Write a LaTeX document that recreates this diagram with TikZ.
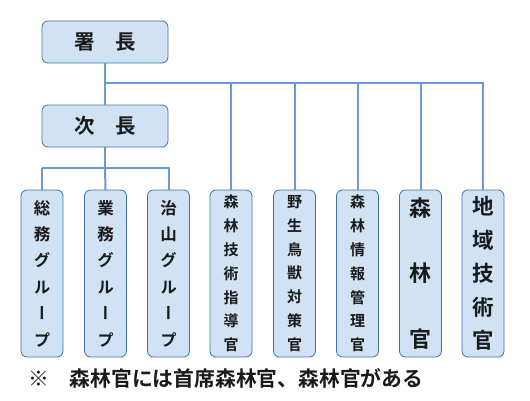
\documentclass[tikz,border=0pt]{standalone}
\usepackage{fontspec}
\newfontfamily\jpfont{Noto Sans CJK JP}[BoldFont={Noto Sans CJK JP Bold}]
\newfontfamily\jpvfont{Noto Sans CJK JP}[BoldFont={Noto Sans CJK JP Bold},RawFeature=+vert]
\definecolor{boxfill}{HTML}{D0E2F3}
\definecolor{boxedge}{HTML}{41719C}
\definecolor{linkc}{HTML}{6A9ACF}
\definecolor{txt}{HTML}{1A1A1A}
\begin{document}
\begin{tikzpicture}[x=1pt,y=-1pt,
  every node/.style={inner sep=0pt,outer sep=0pt},
  headbox/.style={draw=boxedge,line width=0.8pt,fill=boxfill,rounded corners=6pt,
     minimum width=126pt,minimum height=42pt,text=txt,
     font=\jpfont\bfseries\fontsize{20.5}{24}\selectfont},
  colbox/.style={draw=boxedge,line width=0.8pt,fill=boxfill,rounded corners=6pt,
     minimum width=42pt,minimum height=167pt,text=txt,align=center},
  link/.style={draw=linkc,line width=2pt}]
\useasboundingbox (0,0) rectangle (530,400);
\node[headbox] (sho) at (105,42) {署　長};
\node[headbox] (ji) at (105,126) {次　長};
\node[colbox,font=\jpvfont\bfseries\fontsize{16.5}{26.4}\selectfont] (c1) at (42,273.5) {総\\務\\グ\\ル\\ー\\プ};
\node[colbox,font=\jpvfont\bfseries\fontsize{16.5}{26.4}\selectfont] (c2) at (105.5,273.5) {業\\務\\グ\\ル\\ー\\プ};
\node[colbox,font=\jpvfont\bfseries\fontsize{16.5}{26.4}\selectfont] (c3) at (168.5,273.5) {治\\山\\グ\\ル\\ー\\プ};
\node[colbox,font=\jpfont\bfseries\fontsize{15}{23.8}\selectfont] (c4) at (231,273.5) {森\\林\\技\\術\\指\\導\\官};
\node[colbox,font=\jpfont\bfseries\fontsize{15}{23.8}\selectfont] (c5) at (294.5,273.5) {野\\生\\鳥\\獣\\対\\策\\官};
\node[colbox,font=\jpfont\bfseries\fontsize{15}{23.8}\selectfont] (c6) at (357.5,273.5) {森\\林\\情\\報\\管\\理\\官};
\node[colbox,font=\jpfont\bfseries\fontsize{22}{65.5}\selectfont] (c7) at (420.5,273.5) {森\\林\\官};
\node[colbox,font=\jpfont\bfseries\fontsize{21.5}{33.5}\selectfont] (c8) at (483,273.5) {地\\域\\技\\術\\官};
\node[anchor=west,text=txt,font=\jpfont\bfseries\fontsize{20.8}{24}\selectfont] (note) at (28,378) {※　森林官には首席森林官、森林官がある};
\coordinate (j1) at (105,83);
\coordinate (j2) at (105,168);
\draw[link] (sho.south) -- (ji.north);
\draw[link] (j1) -| (c8.north);
\foreach \c in {c4,c5,c6,c7} \draw[link] (j1 -| \c.north) -- (\c.north);
\draw[link] (ji.south) -- (j2);
\draw[link] (j2 -| c1.north) -- (c1.north);
\draw[link] (j2 -| c1.north) -| (c3.north);
\draw[link] (j2) -- (c2.north);
\end{tikzpicture}
\end{document}
